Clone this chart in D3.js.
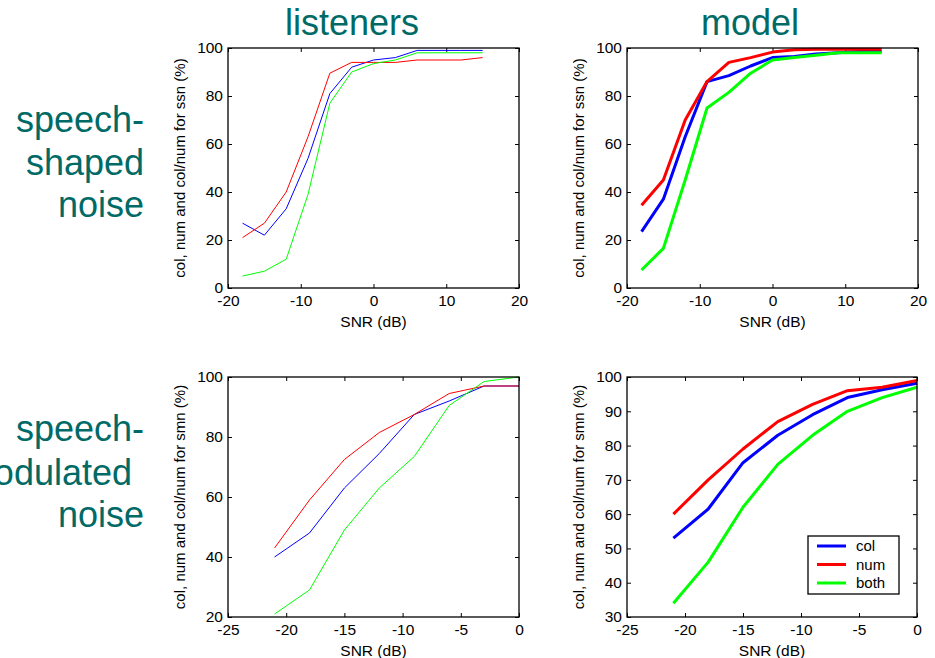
<!DOCTYPE html>
<html>
<head>
<meta charset="utf-8">
<script src="https://cdn.jsdelivr.net/npm/d3@7"></script>
<style>
  body { margin: 0; background: #fff; }
  svg { display: block; font-family: "Liberation Sans", Arial, sans-serif; }
</style>
</head>
<body>
<svg id="chart" width="935" height="658"></svg>
<script>
// SNR steps
let snrSsn = [-18, -15, -12, -9, -6, -3, 0, 3, 6, 9, 12, 15]
let snrSmn = [-21, -18, -15, -12, -9, -6, -3, 0]

// listeners, speech-shaped noise
let listenersSsnCol  = [27, 22, 33, 54, 81, 92, 95, 96, 99, 99, 99, 99]
let listenersSsnNum  = [21, 27, 40, 63, 89.5, 94, 94, 94, 95, 95, 95, 96]
let listenersSsnBoth = [5, 7, 12, 39, 77, 90, 93.5, 95, 98, 98, 98, 98]

// model, speech-shaped noise
let modelSsnCol  = [23.5, 37, 63, 86, 88.5, 92.5, 96, 96.5, 97.5, 98, 98.5, 98.5]
let modelSsnNum  = [34.5, 45, 70, 86, 94, 96, 98.3, 99.3, 99.5, 99.5, 99.5, 99.5]
let modelSsnBoth = [7.5, 16.5, 45, 75, 81.5, 89.5, 95, 96, 97, 98, 98, 98]

// listeners, speech-modulated noise
let listenersSmnCol  = [40, 48, 63, 74.5, 87.5, 92, 97, 97]
let listenersSmnNum  = [43, 59, 72.5, 81.5, 87.5, 94.5, 97, 97]
let listenersSmnBoth = [21, 29, 49, 63, 73.5, 90.5, 98.5, 100]

// model, speech-modulated noise
let modelSmnCol  = [53, 61.5, 75, 83, 89, 94, 96.3, 98.2]
let modelSmnNum  = [60, 70, 79, 87, 92, 96, 97, 99]
let modelSmnBoth = [34, 46, 62, 74.5, 83, 90, 94, 97]

let seriesNames = ['col', 'num', 'both']
let seriesColors = ['#0000ff', '#ff0000', '#00ff00']

let xTicksSsn = [-20, -10, 0, 10, 20]
let xTicksSmn = [-25, -20, -15, -10, -5, 0]
let yTicksSsn = [0, 20, 40, 60, 80, 100]
let yTicksListSmn = [20, 40, 60, 80, 100]
let yTicksModelSmn = [30, 40, 50, 60, 70, 80, 90, 100]

let columnTitles = ['listeners', 'model']
let rowLabelsTop = ['speech-', 'shaped', 'noise']
let rowLabelsBottom = ['speech-', 'modulated', 'noise']

let teal = '#006a66'
let svg = d3.select('#chart')
let plain = d => String(d)   // hyphen minus, like the original

let panels = [
  {x0: 228, x1: 519, y0: 48, y1: 288, xd: [-20, 20], yd: [0, 100], xt: xTicksSsn, yt: yTicksSsn,
   snr: snrSsn, data: [listenersSsnCol, listenersSsnNum, listenersSsnBoth], lw: 1, noise: 'ssn'},
  {x0: 627, x1: 918, y0: 48, y1: 288, xd: [-20, 20], yd: [0, 100], xt: xTicksSsn, yt: yTicksSsn,
   snr: snrSsn, data: [modelSsnCol, modelSsnNum, modelSsnBoth], lw: 3, noise: 'ssn'},
  {x0: 228, x1: 519, y0: 377, y1: 617, xd: [-25, 0], yd: [20, 100], xt: xTicksSmn, yt: yTicksListSmn,
   snr: snrSmn, data: [listenersSmnCol, listenersSmnNum, listenersSmnBoth], lw: 1, noise: 'smn'},
  {x0: 627, x1: 917, y0: 377, y1: 617, xd: [-25, 0], yd: [30, 100], xt: xTicksSmn, yt: yTicksModelSmn,
   snr: snrSmn, data: [modelSmnCol, modelSmnNum, modelSmnBoth], lw: 3, noise: 'smn', legend: true}
]

panels.forEach(p => {
  let x = d3.scaleLinear().domain(p.xd).range([p.x0, p.x1])
  let y = d3.scaleLinear().domain(p.yd).range([p.y1, p.y0])
  let g = svg.append('g')

  // inside ticks on all four sides, MATLAB style
  let styleAxis = a => {
    a.select('.domain').remove()
    a.selectAll('line').attr('stroke', '#000')
    a.selectAll('text').attr('fill', '#000').style('font-size', '15.5px').style('font-family', 'Liberation Sans, Arial, sans-serif')
  }
  g.append('g').attr('transform', `translate(0,${p.y1})`)
    .call(d3.axisBottom(x).tickValues(p.xt).tickSize(-4).tickPadding(7).tickFormat(plain))
    .call(styleAxis)
  g.append('g').attr('transform', `translate(0,${p.y0})`)
    .call(d3.axisTop(x).tickValues(p.xt).tickSize(-4).tickFormat(''))
    .call(styleAxis)
  g.append('g').attr('transform', `translate(${p.x0},0)`)
    .call(d3.axisLeft(y).tickValues(p.yt).tickSize(-4).tickPadding(5).tickFormat(plain))
    .call(styleAxis)
  g.append('g').attr('transform', `translate(${p.x1},0)`)
    .call(d3.axisRight(y).tickValues(p.yt).tickSize(-4).tickFormat(''))
    .call(styleAxis)

  let line = d3.line().x((d, i) => x(p.snr[i])).y(d => y(d))
  p.data.forEach((vals, k) => {
    g.append('path').datum(vals)
      .attr('d', line)
      .attr('fill', 'none')
      .attr('stroke', seriesColors[k])
      .attr('stroke-width', p.lw)
      .attr('stroke-linejoin', 'round')
  })

  g.append('rect')
    .attr('x', p.x0).attr('y', p.y0)
    .attr('width', p.x1 - p.x0).attr('height', p.y1 - p.y0)
    .attr('fill', 'none').attr('stroke', '#000').attr('stroke-width', 1.3)

  g.append('text')
    .attr('x', (p.x0 + p.x1) / 2).attr('y', p.y1 + 39)
    .attr('text-anchor', 'middle').style('font-size', '15.5px')
    .text('SNR (dB)')

  let cy = (p.y0 + p.y1) / 2
  g.append('text')
    .attr('transform', `translate(${p.x0 - 43},${cy}) rotate(-90)`)
    .attr('text-anchor', 'middle').style('font-size', '15px')
    .text(`col, num and col/num for ${p.noise} (%)`)

  if (p.legend) {
    let lg = g.append('g')
    lg.append('rect').attr('x', 808).attr('y', 536).attr('width', 91).attr('height', 58)
      .attr('fill', '#fff').attr('stroke', '#000').attr('stroke-width', 1.3)
    seriesNames.forEach((name, k) => {
      let ly = 546 + k * 18.5
      lg.append('line').attr('x1', 817).attr('x2', 846).attr('y1', ly).attr('y2', ly)
        .attr('stroke', seriesColors[k]).attr('stroke-width', 3)
      lg.append('text').attr('x', 856).attr('y', ly + 5).style('font-size', '15px').text(name)
    })
  }
})

// column titles
svg.selectAll('.coltitle').data(columnTitles).enter().append('text')
  .attr('x', (d, i) => i === 0 ? 352 : 750).attr('y', 35)
  .attr('text-anchor', 'middle').attr('fill', teal)
  .style('font-size', '36px')
  .text(d => d)

// row labels on the left
let rowBlock = (labels, baselines) => {
  labels.forEach((t, i) => {
    svg.append('text')
      .attr('x', t === 'modulated' ? 132 : 144).attr('y', baselines[i])
      .attr('text-anchor', 'end').attr('fill', teal)
      .style('font-size', '36px')
      .text(t)
  })
}
rowBlock(rowLabelsTop, [132, 175, 217])
rowBlock(rowLabelsBottom, [441, 485, 527])
</script>
</body>
</html>
